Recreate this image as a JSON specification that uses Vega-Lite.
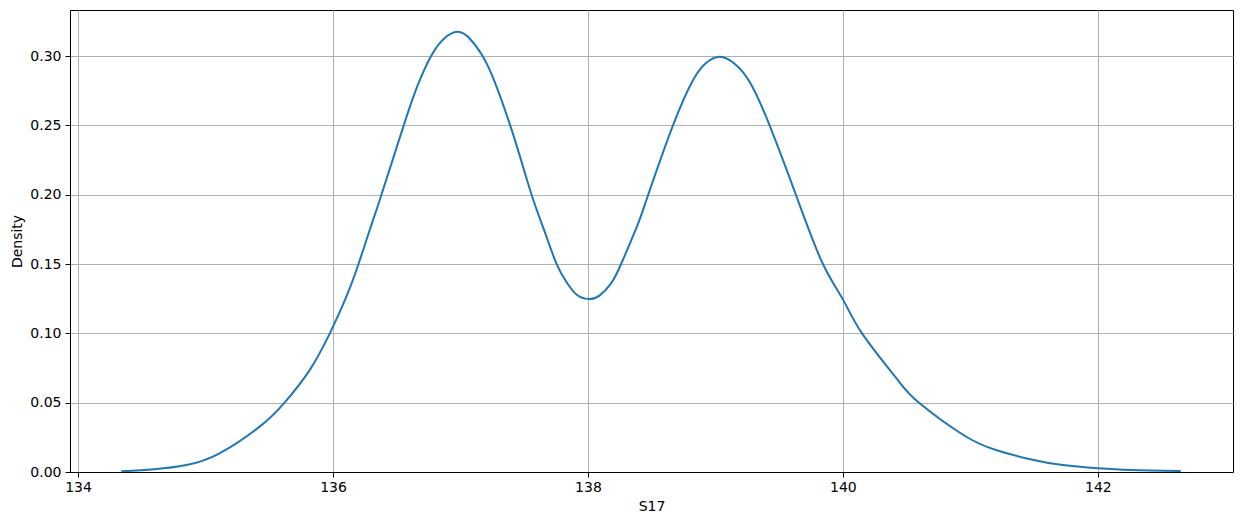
{
  "$schema": "https://vega.github.io/schema/vega-lite/v6.json",
  "autosize": "none",
  "width": 1163,
  "height": 462,
  "padding": {"left": 70, "top": 10, "right": 9, "bottom": 53},
  "background": "white",
  "config": {
    "view": {"stroke": "black", "strokeWidth": 1},
    "font": "DejaVu Sans"
  },
  "data": {
    "values": [
      {"x": 134.34, "density": 0.0006},
      {"x": 134.6, "density": 0.002},
      {"x": 134.85, "density": 0.005},
      {"x": 135.11, "density": 0.0135},
      {"x": 135.425, "density": 0.0327},
      {"x": 135.62, "density": 0.05},
      {"x": 135.817, "density": 0.0735},
      {"x": 135.975, "density": 0.1},
      {"x": 136.105, "density": 0.1264},
      {"x": 136.2, "density": 0.15},
      {"x": 136.288, "density": 0.1745},
      {"x": 136.38, "density": 0.2},
      {"x": 136.555, "density": 0.25},
      {"x": 136.665, "density": 0.279},
      {"x": 136.77, "density": 0.3},
      {"x": 136.87, "density": 0.3125},
      {"x": 136.976, "density": 0.3175},
      {"x": 137.07, "density": 0.3128},
      {"x": 137.17, "density": 0.3005},
      {"x": 137.27, "density": 0.281},
      {"x": 137.39, "density": 0.25},
      {"x": 137.48, "density": 0.2235},
      {"x": 137.57, "density": 0.1965},
      {"x": 137.66, "density": 0.1735},
      {"x": 137.752, "density": 0.1505},
      {"x": 137.83, "density": 0.1372},
      {"x": 137.91, "density": 0.128},
      {"x": 138.006, "density": 0.1247},
      {"x": 138.09, "density": 0.1272},
      {"x": 138.18, "density": 0.1358},
      {"x": 138.26, "density": 0.15},
      {"x": 138.38, "density": 0.176},
      {"x": 138.458, "density": 0.196},
      {"x": 138.667, "density": 0.25},
      {"x": 138.824, "density": 0.2826},
      {"x": 138.92, "density": 0.2945},
      {"x": 139.033, "density": 0.2995},
      {"x": 139.15, "density": 0.2945},
      {"x": 139.268, "density": 0.2815},
      {"x": 139.425, "density": 0.25},
      {"x": 139.647, "density": 0.196},
      {"x": 139.843, "density": 0.15},
      {"x": 140.0, "density": 0.1245},
      {"x": 140.15, "density": 0.1},
      {"x": 140.42, "density": 0.0675},
      {"x": 140.59, "density": 0.0505},
      {"x": 140.945, "density": 0.0267},
      {"x": 141.2, "density": 0.0159},
      {"x": 141.46, "density": 0.0094},
      {"x": 141.725, "density": 0.005},
      {"x": 142.0, "density": 0.0027},
      {"x": 142.26, "density": 0.0014},
      {"x": 142.65, "density": 0.0007}
    ]
  },
  "mark": {"type": "line", "color": "#1f77b4", "strokeWidth": 2, "interpolate": "natural"},
  "encoding": {
    "x": {
      "field": "x",
      "type": "quantitative",
      "scale": {"domain": [133.937, 143.06], "nice": false, "zero": false},
      "axis": {
        "title": "S17",
        "values": [134, 136, 138, 140, 142],
        "format": "d",
        "grid": true,
        "gridColor": "#b0b0b0",
        "gridWidth": 1,
        "domainColor": "black",
        "tickColor": "black",
        "tickSize": 5,
        "labelColor": "black",
        "labelFontSize": 14,
        "labelPadding": 3,
        "titleFontSize": 14,
        "titleFontWeight": "normal",
        "titleColor": "black",
        "titlePadding": 5
      }
    },
    "y": {
      "field": "density",
      "type": "quantitative",
      "scale": {"domain": [0, 0.3332], "nice": false},
      "axis": {
        "title": "Density",
        "values": [0, 0.05, 0.1, 0.15, 0.2, 0.25, 0.3],
        "format": ".2f",
        "grid": true,
        "gridColor": "#b0b0b0",
        "gridWidth": 1,
        "domainColor": "black",
        "tickColor": "black",
        "tickSize": 5,
        "labelColor": "black",
        "labelFontSize": 14,
        "labelPadding": 4,
        "titleFontSize": 14,
        "titleFontWeight": "normal",
        "titleColor": "black",
        "titlePadding": 5
      }
    }
  }
}
